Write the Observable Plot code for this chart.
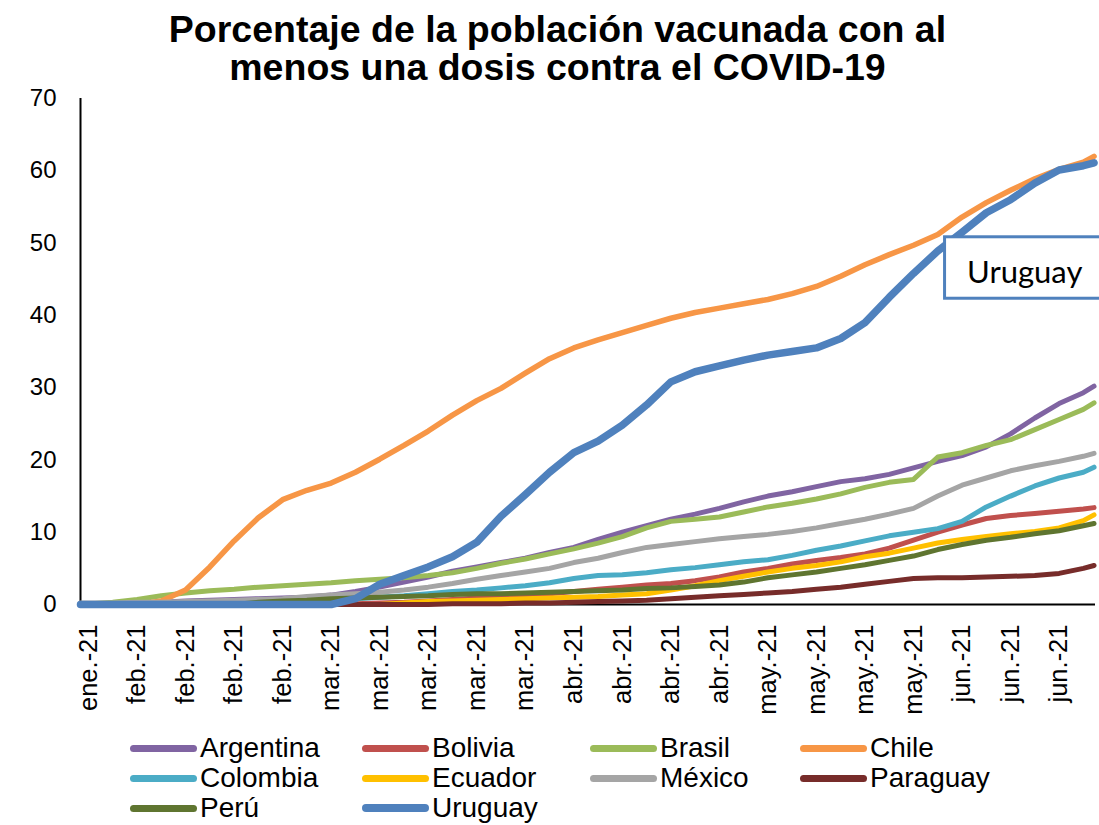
<!DOCTYPE html>
<html><head><meta charset="utf-8">
<script src="https://cdn.jsdelivr.net/npm/d3@7"></script>
<script src="https://cdn.jsdelivr.net/npm/@observablehq/plot@0.6"></script>
<style>
html,body{margin:0;padding:0;background:#fff;overflow:hidden;}
#title{height:80px;width:1099px;box-sizing:border-box;padding-top:10px;padding-left:16px;text-align:center;font:bold 37.5px "Liberation Sans",Arial,sans-serif;line-height:38px;color:#000;white-space:nowrap;}
#chart svg{overflow:hidden;display:block}
#legend{position:relative;height:92px;width:1099px;font:28px "Liberation Sans",Arial,sans-serif;color:#000;}
.item{position:absolute;display:flex;align-items:center;height:30px;white-space:nowrap;}
.sw{width:67px;margin-right:3px;}
</style></head><body>
<div id="title">Porcentaje de la población vacunada con al<br>menos una dosis contra el COVID-19</div>
<div id="chart"></div>
<div id="legend"></div>
<script>
// x positions (in units of tick intervals; tick k sits at position k)
const xPos = [-0.165,0.5,1,1.5,2,2.5,3,3.5,4,4.5,5,5.5,6,6.5,7,7.5,8,8.5,9,9.5,10,10.5,11,11.5,12,12.5,13,13.5,14,14.5,15,15.5,16,16.5,17,17.5,18,18.5,19,19.5,20,20.5,20.72];
const tickPos = [0,1,2,3,4,5,6,7,8,9,10,11,12,13,14,15,16,17,18,19,20];
const tickLabels = ["ene.-21","feb.-21","feb.-21","feb.-21","feb.-21","mar.-21","mar.-21","mar.-21","mar.-21","mar.-21","abr.-21","abr.-21","abr.-21","abr.-21","may.-21","may.-21","may.-21","may.-21","jun.-21","jun.-21","jun.-21"];
const yTicks = [0,10,20,30,40,50,60,70];

const countries = ["Argentina","Bolivia","Brasil","Chile","Colombia","Ecuador","México","Paraguay","Perú","Uruguay"];
const colors = ["#8064A2","#C0504D","#9BBB59","#F79646","#4BACC6","#FFC000","#A5A5A5","#772C2A","#5F7530","#4F81BD"];
const widths = [5,5,5,5.5,5,5,5,5,5,7.5];

const argentina = [0.1,0.1,0.2,0.3,0.5,0.6,0.7,0.8,0.9,1.0,1.3,1.8,2.4,3.1,3.8,4.6,5.2,5.8,6.4,7.2,7.9,9.0,10.0,10.9,11.8,12.5,13.3,14.2,15.0,15.6,16.3,17.0,17.4,18.0,18.9,19.8,20.6,21.8,23.6,25.8,27.8,29.3,30.2];
const bolivia = [0,0,0,0,0,0,0,0,0,0,0.1,0.1,0.2,0.3,0.5,0.7,0.9,1.1,1.3,1.5,1.8,2.1,2.4,2.7,2.9,3.3,3.8,4.5,5.0,5.6,6.1,6.5,7.0,7.8,8.9,10.0,11.0,11.9,12.3,12.6,12.9,13.2,13.4];
const brasil = [0,0.3,0.7,1.2,1.6,1.9,2.1,2.4,2.6,2.8,3.0,3.3,3.5,3.7,4.0,4.4,5.0,5.7,6.3,7.0,7.7,8.5,9.4,10.6,11.5,11.8,12.1,12.8,13.5,14.0,14.6,15.3,16.2,16.9,17.3,20.4,21.0,22.0,22.8,24.2,25.6,27.0,27.9];
const chile = [0,0,0,0.5,2,5.2,8.8,12,14.5,15.8,16.8,18.3,20.1,22,24,26.2,28.2,29.9,32,34,35.5,36.6,37.6,38.6,39.6,40.4,41,41.6,42.2,43,44,45.4,47,48.4,49.7,51.2,53.6,55.6,57.3,58.9,60.2,61.2,62];
const colombia = [0,0,0,0.1,0.1,0.2,0.2,0.3,0.4,0.5,0.6,0.8,1.0,1.2,1.5,1.8,2.0,2.3,2.6,3.0,3.6,4.0,4.1,4.4,4.8,5.1,5.5,5.9,6.2,6.8,7.5,8.1,8.8,9.5,10.0,10.5,11.5,13.5,15.0,16.4,17.5,18.3,19.0];
const ecuador = [0,0,0,0,0,0,0,0,0,0,0,0,0,0.2,0.4,0.5,0.6,0.7,0.8,0.9,1.0,1.1,1.3,1.5,2.0,2.6,3.3,3.9,4.5,5.0,5.4,5.9,6.6,7.1,7.8,8.5,9.0,9.4,9.8,10.1,10.6,11.6,12.4];
const mexico = [0.2,0.2,0.3,0.3,0.4,0.5,0.6,0.7,0.8,1.1,1.3,1.5,1.7,2.0,2.4,2.9,3.5,4.0,4.5,5.0,5.8,6.4,7.2,7.9,8.3,8.7,9.1,9.4,9.7,10.1,10.6,11.2,11.8,12.5,13.3,15.0,16.5,17.5,18.5,19.2,19.8,20.5,20.9];
const paraguay = [0,0,0,0,0,0,0,0,0,0,0,0,0,0,0,0.1,0.1,0.1,0.2,0.2,0.3,0.4,0.5,0.6,0.8,1.0,1.2,1.4,1.6,1.8,2.1,2.4,2.8,3.2,3.6,3.7,3.7,3.8,3.9,4.0,4.3,5.0,5.4];
const peru = [0,0,0,0,0,0,0,0.3,0.5,0.6,0.8,0.9,1.0,1.1,1.2,1.4,1.5,1.5,1.6,1.7,1.8,1.9,2.0,2.2,2.3,2.5,2.7,3.1,3.7,4.1,4.5,5.0,5.5,6.1,6.7,7.6,8.3,8.9,9.3,9.8,10.2,10.9,11.2];
const uruguay = [0,0,0,0,0,0,0,0,0,0,0,0.8,2.8,4.0,5.2,6.6,8.6,12.2,15.2,18.3,21,22.6,24.8,27.6,30.8,32.2,33,33.8,34.5,35,35.5,36.8,39,42.5,45.8,48.9,51.5,54.2,56,58.3,60.1,60.7,61.1];

const seriesValues = [argentina,bolivia,brasil,chile,colombia,ecuador,mexico,paraguay,peru,uruguay];

// data label box for Uruguay
const labelBox = [{text:"Uruguay", x1:17.65, x2:20.95, y1:42.3, y2:50.8}];

const xStart = -0.165, xEnd = 20.75;
const font = '"Liberation Sans", Arial, sans-serif';

const lineMarks = countries.map((c, k) => Plot.line(
  seriesValues[k].map((v, i) => ({t: xPos[i], v})),
  {x: "t", y: "v", stroke: colors[k], strokeWidth: widths[k], strokeLinejoin: "round", strokeLinecap: "round"}
));

const chart = Plot.plot({
  width: 1099, height: 653,
  marginLeft: 80, marginRight: 4, marginTop: 18, marginBottom: 129,
  x: {domain: [xStart, xEnd]},
  y: {domain: [0, 70]},
  style: {fontFamily: font, color: "#000", background: "#fff", overflow: "hidden"},
  marks: [
    Plot.ruleY([0], {stroke: "#000", strokeWidth: 2}),
    Plot.ruleX([xStart], {y1: 0, y2: 70, stroke: "#000", strokeWidth: 2}),
    Plot.axisY({ticks: yTicks, tickSize: 0, tickPadding: 24, fontSize: 24, label: null}),
    Plot.axisX({ticks: tickPos, tickFormat: d => tickLabels[Math.round(d)], tickRotate: -90, tickSize: 0, tickPadding: 20, fontSize: 25.5, label: null}),
    ...lineMarks,
    Plot.rect(labelBox, {x1: "x1", x2: "x2", y1: "y1", y2: "y2", fill: "#fff", stroke: "#4F81BD", strokeWidth: 3}),
    Plot.text(labelBox, {x: "x1", y: d => (d.y1 + d.y2) / 2, text: "text", textAnchor: "start", dx: 22, dy: 5, fontSize: 31, fontFamily: "Lato, 'Open Sans', sans-serif", fill: "#000"})
  ]
});
document.getElementById("chart").appendChild(chart);

// legend
const colX = [130, 362, 590, 800];
const leg = document.getElementById("legend");
countries.forEach((c, k) => {
  const row = Math.floor(k / 4), col = k % 4;
  const it = document.createElement("div");
  it.className = "item";
  it.style.left = colX[col] + "px";
  it.style.top = (row * 30) + "px";
  const sw = document.createElement("div");
  sw.className = "sw";
  sw.style.background = colors[k];
  sw.style.height = (k === 9 ? 8 : 7) + "px";
  sw.style.borderRadius = "4px";
  it.appendChild(sw);
  const tx = document.createElement("span");
  tx.textContent = c;
  it.appendChild(tx);
  leg.appendChild(it);
});
</script></body></html>
